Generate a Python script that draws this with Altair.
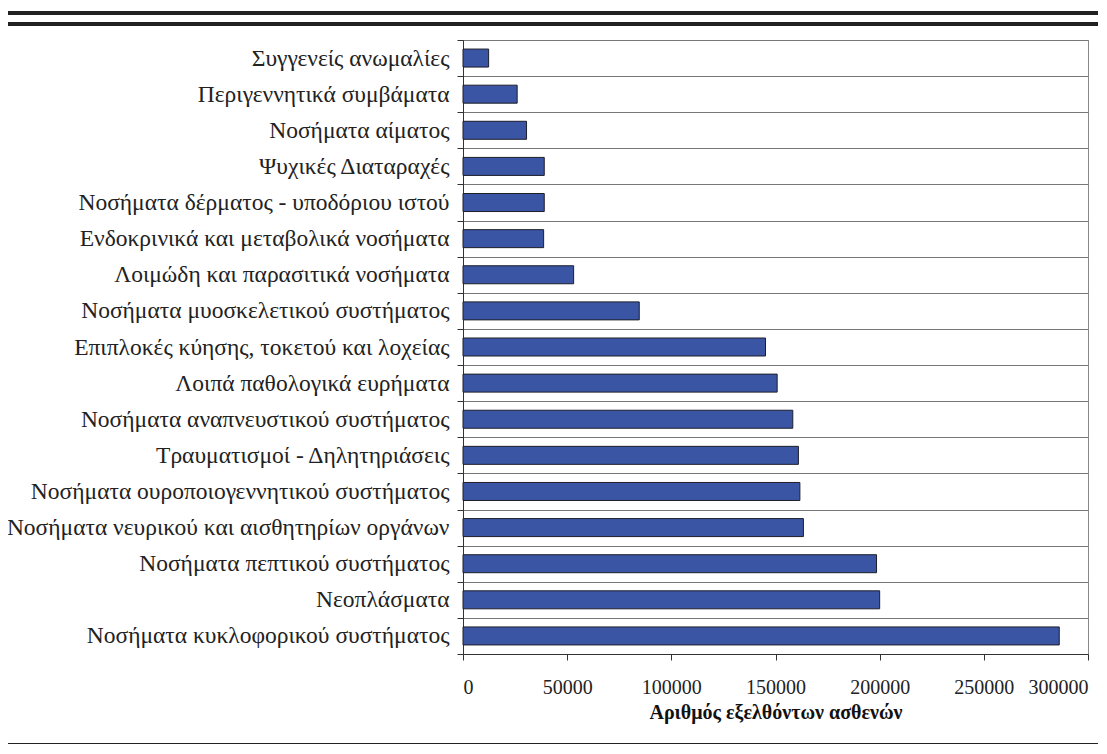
import altair as alt
import pandas as pd

categories = [
    "Συγγενείς ανωμαλίες",
    "Περιγεννητικά συμβάματα",
    "Νοσήματα αίματος",
    "Ψυχικές Διαταραχές",
    "Νοσήματα δέρματος - υποδόριου ιστού",
    "Ενδοκρινικά και μεταβολικά νοσήματα",
    "Λοιμώδη και παρασιτικά νοσήματα",
    "Νοσήματα μυοσκελετικού συστήματος",
    "Επιπλοκές κύησης, τοκετού και λοχείας",
    "Λοιπά παθολογικά ευρήματα",
    "Νοσήματα αναπνευστικού συστήματος",
    "Τραυματισμοί - Δηλητηριάσεις",
    "Νοσήματα ουροποιογεννητικού συστήματος",
    "Νοσήματα νευρικού και αισθητηρίων οργάνων",
    "Νοσήματα πεπτικού συστήματος",
    "Νεοπλάσματα",
    "Νοσήματα κυκλοφορικού συστήματος",
]
values = [12300, 26000, 30500, 39000, 39000, 38700, 53100, 84600,
          145200, 150800, 158300, 161000, 161700, 163400, 198500, 200000, 286200]
x_ticks = [0, 50000, 100000, 150000, 200000, 250000, 300000]

df = pd.DataFrame({"cat": categories, "val": values})
FONT = "Liberation Serif"

bars = alt.Chart(df).mark_bar(
    size=18, color="#3955A3", stroke="#1e1e2a", strokeWidth=1
).encode(
    x=alt.X("val:Q",
            scale=alt.Scale(domain=[0, 300000], nice=False),
            axis=alt.Axis(values=x_ticks, format="d", grid=False,
                          title="Αριθμός εξελθόντων ασθενών",
                          titleFont=FONT, titleFontSize=20, titleFontWeight="bold",
                          titleColor="#111", titlePadding=5,
                          labelFont=FONT, labelFontSize=20, labelColor="#222",
                          labelPadding=17, tickSize=6, tickColor="#333",
                          domainColor="#333")),
    y=alt.Y("cat:N", sort=categories,
            scale=alt.Scale(paddingInner=0, paddingOuter=0),
            axis=alt.Axis(title=None, tickBand="extent", grid=True,
                          gridColor="#777", gridWidth=1,
                          labelFont=FONT, labelFontSize=23.5, labelColor="#222",
                          labelPadding=8, tickSize=6, tickColor="#333",
                          domainColor="#333", labelLimit=500)),
)

top1 = alt.Chart(df).mark_rule(color="#222", strokeWidth=2.5).encode(
    x=alt.value(-457), x2=alt.value(650), y=alt.value(-27))
top2 = alt.Chart(df).mark_rule(color="#222", strokeWidth=2.5).encode(
    x=alt.value(-457), x2=alt.value(650), y=alt.value(-16))
bottom = alt.Chart(df).mark_rule(color="#222", strokeWidth=3).encode(
    x=alt.value(-457), x2=alt.value(650), y=alt.value(705))

chart = alt.layer(bars, top1, top2, bottom).properties(
    width=625, height=614,
    autosize=alt.AutoSizeParams(type="none"),
    padding={"left": 455, "top": 32, "right": 10, "bottom": 90},
).configure_view(stroke="#888", strokeWidth=1)

chart.save("out.html", embed_options={"renderer": "svg", "actions": False})
